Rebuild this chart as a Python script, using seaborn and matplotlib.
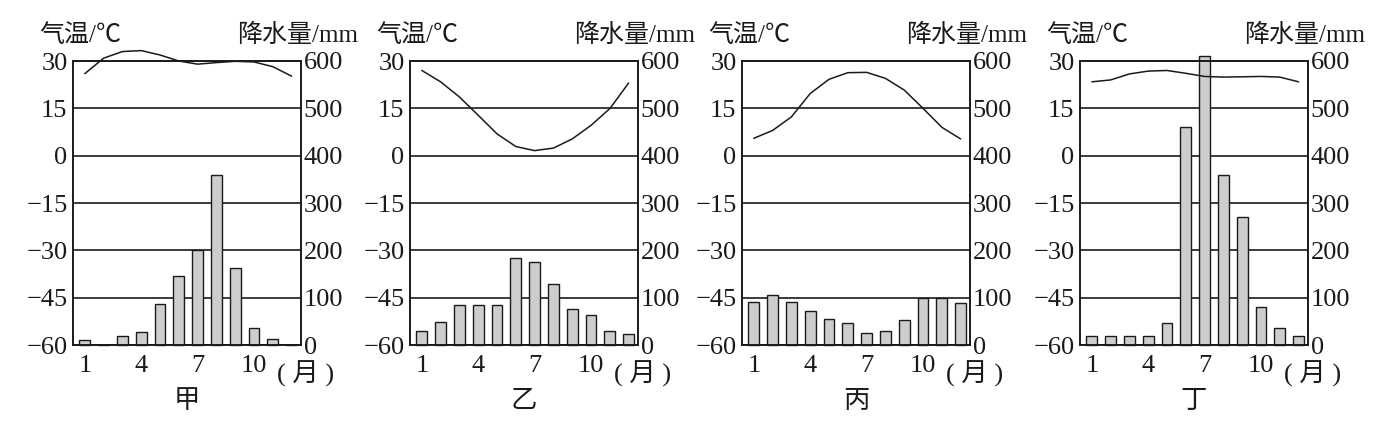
import matplotlib
matplotlib.use("Agg")
import matplotlib.pyplot as plt
import seaborn as sns

months = list(range(1, 13))
panel_names = ["甲", "乙", "丙", "丁"]

# precipitation (mm)
rain_jia = [10, 0, 20, 28, 86, 146, 200, 359, 163, 35, 13, 0]
rain_yi = [30, 48, 84, 84, 84, 184, 176, 129, 76, 64, 30, 24]
rain_bing = [91, 105, 90, 72, 55, 47, 26, 30, 53, 100, 100, 89]
rain_ding = [19, 19, 18, 18, 47, 460, 610, 360, 270, 80, 35, 19]

# temperature (°C)
temp_jia = [26.0, 30.9, 33.0, 33.3, 31.9, 30.0, 29.0, 29.5, 29.9, 29.7, 28.2, 25.2]
temp_yi = [27.0, 23.4, 18.6, 12.8, 6.9, 2.9, 1.6, 2.4, 5.3, 9.6, 14.9, 23.0]
temp_bing = [5.5, 8.0, 12.3, 19.7, 24.2, 26.3, 26.4, 24.5, 20.8, 15.0, 9.0, 5.3]
temp_ding = [23.4, 24.0, 25.9, 26.8, 27.0, 26.1, 25.1, 24.9, 25.0, 25.1, 24.9, 23.4]

rains = [rain_jia, rain_yi, rain_bing, rain_ding]
temps = [temp_jia, temp_yi, temp_bing, temp_ding]

sns.set_theme(style="white")
plt.rcParams["font.family"] = ["Liberation Serif", "Noto Sans CJK SC"]
plt.rcParams["axes.unicode_minus"] = True

W, H = 1394, 423
fig = plt.figure(figsize=(W / 100, H / 100), dpi=100)
lefts = [73, 410, 742, 1080]
ink = "#1a1a1a"
fs = 19

for left, name, rain, temp in zip(lefts, panel_names, rains, temps):
    ax = fig.add_axes([left / W, 1 - 345 / H, 228 / W, 284 / H])
    sns.barplot(x=months, y=rain, native_scale=True, width=0.58, color="#cdcdcd",
                saturation=1, edgecolor=ink, linewidth=1.0, clip_on=False, ax=ax)
    ax.set_xlim(0.37, 12.5)
    ax.set_ylim(0, 600)
    ax.set_yticks(range(0, 601, 100))
    ax.set_xticks([1, 4, 7, 10])
    ax.set_xticklabels(["1", "4", "7", "10"])
    ax.set_axisbelow(True)
    ax.yaxis.grid(True, color=ink, linewidth=1.2)
    ax.set_xlabel("")
    ax.set_ylabel("")

    ax2 = ax.twinx()
    sns.lineplot(x=months, y=temp, color=ink, linewidth=1.1, clip_on=False, ax=ax2)
    ax2.set_ylim(-60, 30)
    ax2.set_yticks(range(-60, 31, 15))
    ax2.set_ylabel("")
    ax.yaxis.tick_right()
    ax2.yaxis.tick_left()

    for a in (ax, ax2):
        for sp in a.spines.values():
            sp.set_color(ink)
            sp.set_linewidth(1.2)
            sp.set_visible(True)
        a.tick_params(length=0, labelsize=fs, colors=ink)
    ax.tick_params(axis="x", pad=7)
    ax.tick_params(axis="y", pad=2)
    ax2.tick_params(axis="y", pad=4)

    ax.text(-0.15, 1.09, "气温/℃", transform=ax.transAxes, ha="left", va="center",
            fontsize=fs - 1, color=ink)
    ax.text(1.25, 1.09, "降水量/mm", transform=ax.transAxes, ha="right", va="center",
            fontsize=fs - 1, color=ink)
    ax.text(1.02, -0.10, "( 月 )", transform=ax.transAxes, ha="center", va="center",
            fontsize=fs, color=ink)
    ax.text(0.5, -0.20, name, transform=ax.transAxes, ha="center", va="center",
            fontsize=fs, color=ink)

fig.savefig("out.png", dpi=100, facecolor="white")
